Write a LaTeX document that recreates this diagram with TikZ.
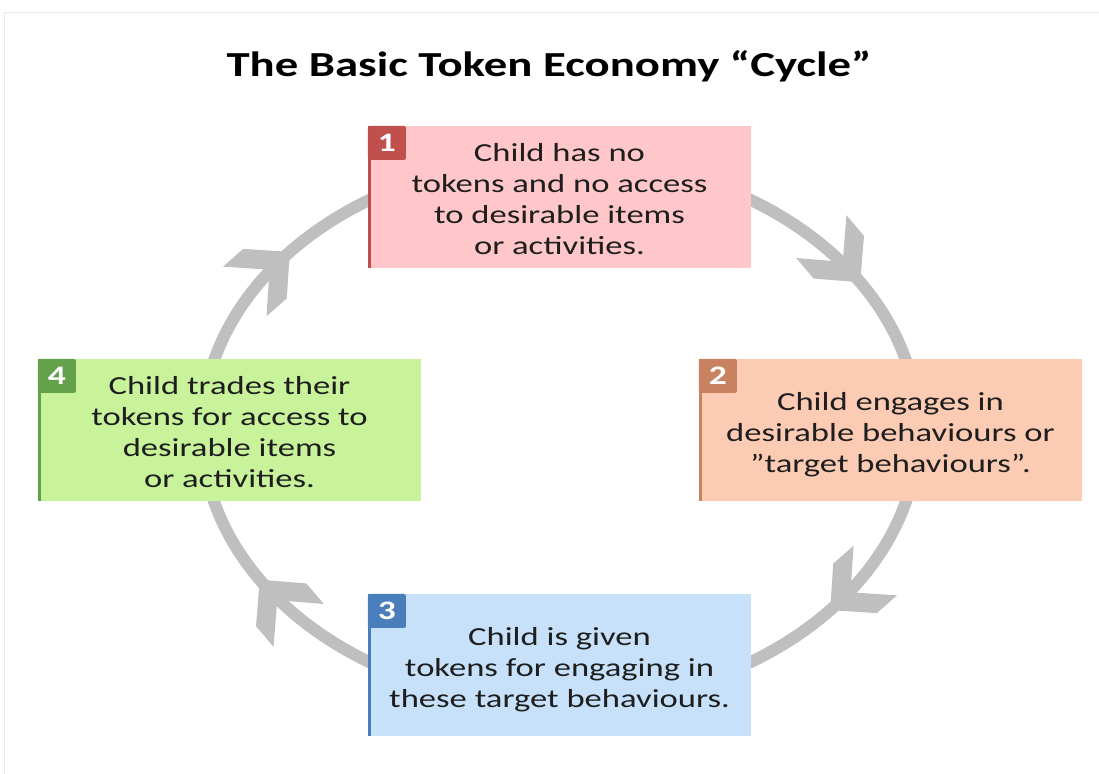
\documentclass[tikz,border=0pt]{standalone}
\usepackage{fontspec}
\usepackage{graphicx}
\setmainfont{Carlito}
\usetikzlibrary{positioning}

\definecolor{ringgray}{HTML}{BFBFBF}
\definecolor{framegray}{HTML}{EBEBEB}
\definecolor{textgray}{HTML}{1E1E1E}
\definecolor{redfill}{HTML}{FFC7C9}
\definecolor{redtab}{HTML}{C0504D}
\definecolor{orangefill}{HTML}{FBCBB3}
\definecolor{orangetab}{HTML}{C9825F}
\definecolor{bluefill}{HTML}{C6E1F9}
\definecolor{bluetab}{HTML}{4A7EBB}
\definecolor{greenfill}{HTML}{C9F39B}
\definecolor{greentab}{HTML}{64A14B}

\newcommand{\wide}[1]{\scalebox{1.33}[1]{#1}}
\newcommand{\boxtext}[1]{\raisebox{-0.13cm}[\height][\depth]{\wide{\begin{tabular}{@{}c@{}}#1\end{tabular}}}}

\tikzset{
  ring/.style={draw=ringgray, line width=0.3cm},
  stepbox/.style={rectangle, inner sep=0pt, minimum width=9.575cm, minimum height=3.55cm,
    text=textgray, font=\fontsize{18.5}{22}\selectfont},
  tabbox/.style={rectangle, anchor=north west, inner sep=0pt, minimum width=0.95cm,
    minimum height=0.85cm, rounded corners=1.5pt, text=white,
    font=\fontsize{19}{20}\selectfont\bfseries},
  title/.style={font=\fontsize{25}{30}\selectfont\bfseries, text=black}
}

\begin{document}
\begin{tikzpicture}[x=0.025cm, y=0.025cm]
  \useasboundingbox (0,0) rectangle (1099,-774);
  \draw[framegray] (4,-800) -- (4,-12) -- (1120,-12);

  \node[title] (title) at (549,-66) {\wide{The Basic Token Economy “Cycle”}};

  \draw[ring] (560,-431) ellipse [x radius=358, y radius=273];
  \foreach \ang in {33,-41,213,139} {
    \pgfmathsetmacro\rot{atan2(-273*cos(\ang), 358*sin(\ang))}
    \fill[ringgray, shift={({560+358*cos(\ang)},{-431+273*sin(\ang)})}, rotate=\rot]
      (0,0) -- (-33,33) -- (-60,33) -- (-27,0) -- (-60,-33) -- (-33,-33) -- cycle;
  }

  \foreach \n/\cx/\cy/\fc/\tc/\txt in {
      1/559.5/-197/redfill/redtab/{Child has no\\tokens and no access\\to desirable items\\or activities.},
      2/890.5/-430/orangefill/orangetab/{Child engages in\\desirable behaviours or\\”target behaviours”.},
      3/559.5/-665/bluefill/bluetab/{Child is given\\tokens for engaging in\\these target behaviours.},
      4/229.5/-430/greenfill/greentab/{Child trades their\\tokens for access to\\desirable items\\or activities.}} {
    \node[stepbox, fill=\fc] (box\n) at (\cx,\cy) {\boxtext{\txt}};
    \fill[\tc] (box\n.north west) rectangle ([xshift=0.075cm]box\n.south west);
    \node[tabbox, fill=\tc] (tab\n) at (box\n.north west) {\wide{\n}};
  }
\end{tikzpicture}
\end{document}
